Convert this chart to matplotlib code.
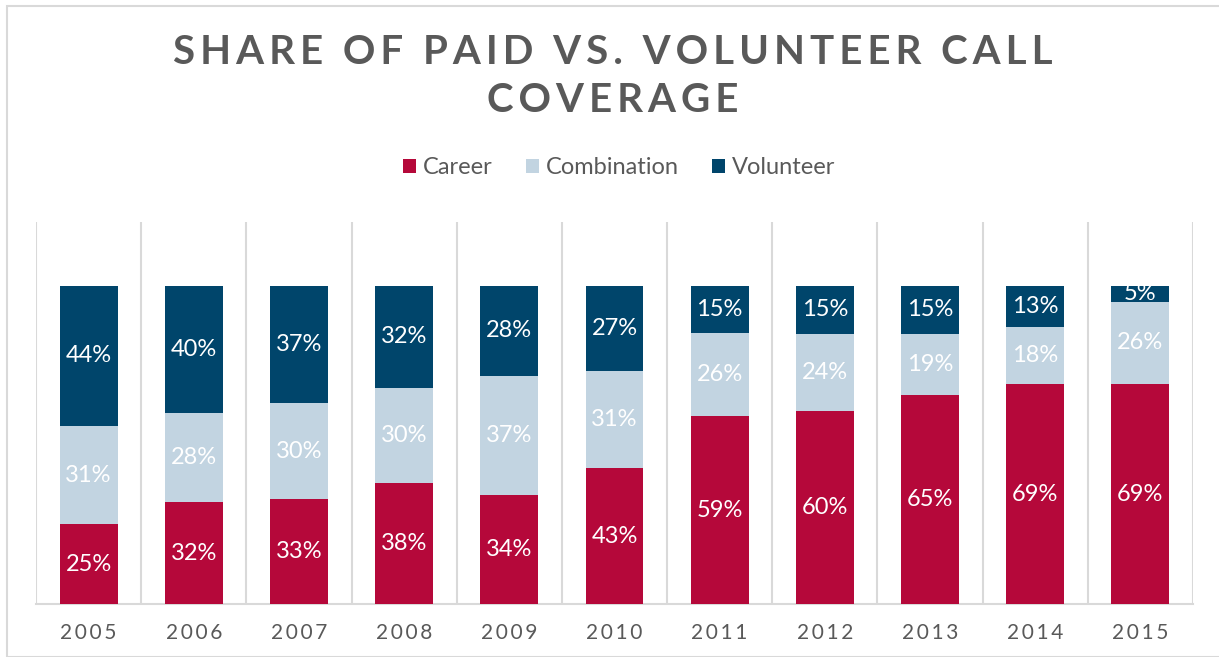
import matplotlib.pyplot as plt
from matplotlib.patches import Rectangle
import numpy as np

# yearly share of calls by department type (percent)
years = ["2005", "2006", "2007", "2008", "2009", "2010", "2011", "2012", "2013", "2014", "2015"]
career = [25, 32, 33, 38, 34, 43, 59, 60, 65, 69, 69]
combination = [31, 28, 30, 30, 37, 31, 26, 24, 19, 18, 26]
volunteer = [44, 40, 37, 32, 28, 27, 15, 15, 15, 13, 5]

series = [("Career", career, "#B5083A"),
          ("Combination", combination, "#C2D4E1"),
          ("Volunteer", volunteer, "#00456B")]

GRAY = "#595959"
LINE = "#D9D9D9"


def spaced(s, sep="\u2009"):
    return sep.join(s)


plt.rcParams["font.family"] = ["Lato", "DejaVu Sans"]

fig = plt.figure(figsize=(12.19, 6.57), dpi=100)
# outer chart frame
fig.patches.append(Rectangle((7 / 1219, 0.0), 1.2, 1 - 6 / 657, transform=fig.transFigure,
                             fill=False, edgecolor=LINE, linewidth=1.5))
ax = fig.add_axes([36 / 1219, 1 - 604 / 657, (1193 - 36) / 1219, (604 - 222) / 657])

x = np.arange(len(years))
totals = np.array(career) + np.array(combination) + np.array(volunteer)
bottom = np.zeros(len(years))
for name, vals, color in series:
    h = np.array(vals) / totals * 100
    ax.bar(x, h, 0.55, bottom=bottom, color=color, label=name, zorder=3)
    for xi, b, hi, v in zip(x, bottom, h, vals):
        ax.text(xi, b + hi / 2, f"{v}%", ha="center", va="center", color="white",
                fontsize=17, zorder=4)
    bottom += h

ax.set_xlim(-0.5, len(years) - 0.5)
ax.set_ylim(0, 120)
for b in np.arange(-0.5, len(years), 1.0):
    ax.axvline(b, color=LINE, linewidth=1.5, zorder=1)
for s in ["top", "left", "right"]:
    ax.spines[s].set_visible(False)
ax.spines["bottom"].set_color(LINE)
ax.spines["bottom"].set_linewidth(1.5)
ax.set_yticks([])
ax.set_xticks(x)
ax.set_xticklabels([spaced(y) for y in years], color=GRAY, fontsize=15)
ax.tick_params(axis="x", length=0, pad=14)

fig.text(0.503, 1 - 52 / 657, spaced("SHARE OF PAID VS. VOLUNTEER CALL"),
         ha="center", va="center", fontsize=29, fontweight="bold", color=GRAY)
fig.text(0.503, 1 - 101 / 657, spaced("COVERAGE"), ha="center", va="center",
         fontsize=29, fontweight="bold", color=GRAY)

handles, labels = ax.get_legend_handles_labels()
fig.legend(handles, labels, loc="center", bbox_to_anchor=(0.508, 1 - 168 / 657), ncol=3,
           frameon=False, fontsize=17, labelcolor=GRAY, handlelength=0.55, handleheight=0.55,
           handletextpad=0.3, columnspacing=1.4)

fig.savefig("out.png", dpi=100)
